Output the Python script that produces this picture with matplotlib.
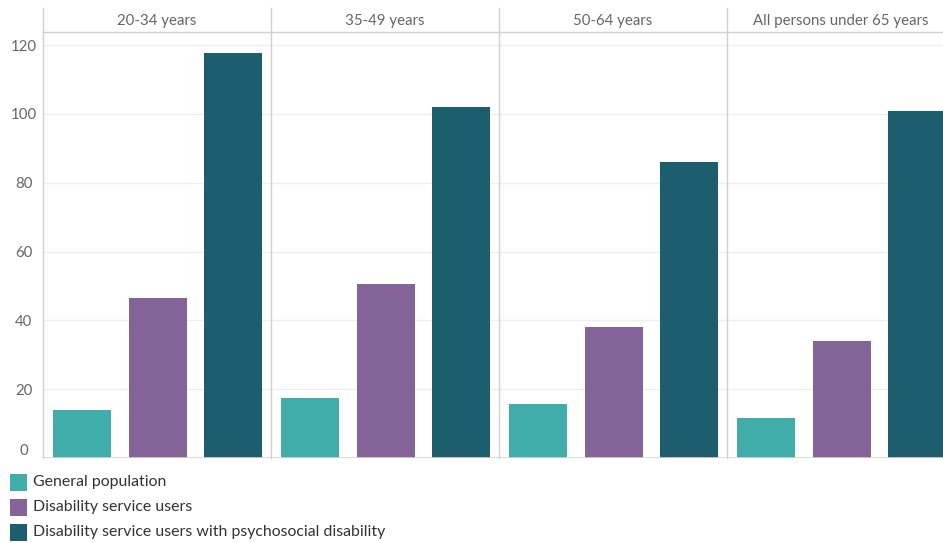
import matplotlib
matplotlib.use("Agg")
import matplotlib.pyplot as plt
from matplotlib.patches import Rectangle

plt.rcParams['font.family'] = ['Lato', 'DejaVu Sans']

age_groups = ["20-34 years", "35-49 years", "50-64 years", "All persons under 65 years"]
series_names = ["General population", "Disability service users",
                "Disability service users with psychosocial disability"]
general_population = [13.9, 17.4, 15.7, 11.6]
service_users = [46.4, 50.7, 38.0, 33.9]
psychosocial = [117.7, 102.0, 86.1, 100.9]
y_ticks = [0, 20, 40, 60, 80, 100, 120]

colors = ["#41ADAA", "#846399", "#1C5E6E"]
grid_col = "#EFEFEF"
sep_col = "#CFCFCF"
text_col = "#666666"

W, H = 943, 543
fig = plt.figure(figsize=(W / 100, H / 100), dpi=100)

left_px, panel_px = 43, 228
top_px, base_px, head_px = 32, 458, 8
ymax = 123.8

values = [general_population, service_users, psychosocial]
step = 75.5
bar_w = 58 / step
x_lo = -39 / step
x_hi = x_lo + panel_px / step

for i, group in enumerate(age_groups):
    x0 = (left_px + i * panel_px) / W
    ax = fig.add_axes([x0, 1 - base_px / H, panel_px / W, (base_px - top_px) / H])
    ax.set_xlim(x_lo, x_hi)
    ax.set_ylim(0, ymax)
    for t in y_ticks[1:]:
        ax.axhline(t, color=grid_col, lw=1, zorder=0)
    for k in range(3):
        ax.bar(k, values[k][i], width=bar_w, color=colors[k], zorder=2)
    for s in ax.spines.values():
        s.set_visible(False)
    ax.axhline(0, color="#D4D4D4", lw=1.2, zorder=3)
    ax.set_xticks([])
    if i == 0:
        ax.set_yticks(y_ticks)
        ax.set_yticklabels([str(t) for t in y_ticks])
        ax.tick_params(axis='y', length=0, labelsize=10.8, labelcolor=text_col, pad=14)
        for lab in ax.get_yticklabels():
            lab.set_horizontalalignment('center')
        ax.get_yticklabels()[0].set_va('bottom')
    else:
        ax.set_yticks([])
    # panel header
    cx = (left_px + (i + 0.5) * panel_px) / W
    fig.text(cx, 1 - 21 / H, group, ha='center', va='center', fontsize=10.8, color=text_col)

# header rule and panel separators
fig.add_artist(plt.Line2D([left_px / W, 1], [1 - top_px / H] * 2, color=sep_col, lw=1))
for i in range(4):
    xs = (left_px + i * panel_px) / W
    fig.add_artist(plt.Line2D([xs, xs], [1 - base_px / H, 1 - head_px / H], color=sep_col, lw=1))

# legend
for k, name in enumerate(series_names):
    yc = 482 + k * 25
    fig.add_artist(Rectangle((10 / W, 1 - (yc + 8.5) / H), 17 / W, 17 / H,
                             facecolor=colors[k], edgecolor='none'))
    fig.text(33 / W, 1 - yc / H, name, ha='left', va='center', fontsize=11.4, color="#333333")

fig.savefig("out.png", dpi=100)
